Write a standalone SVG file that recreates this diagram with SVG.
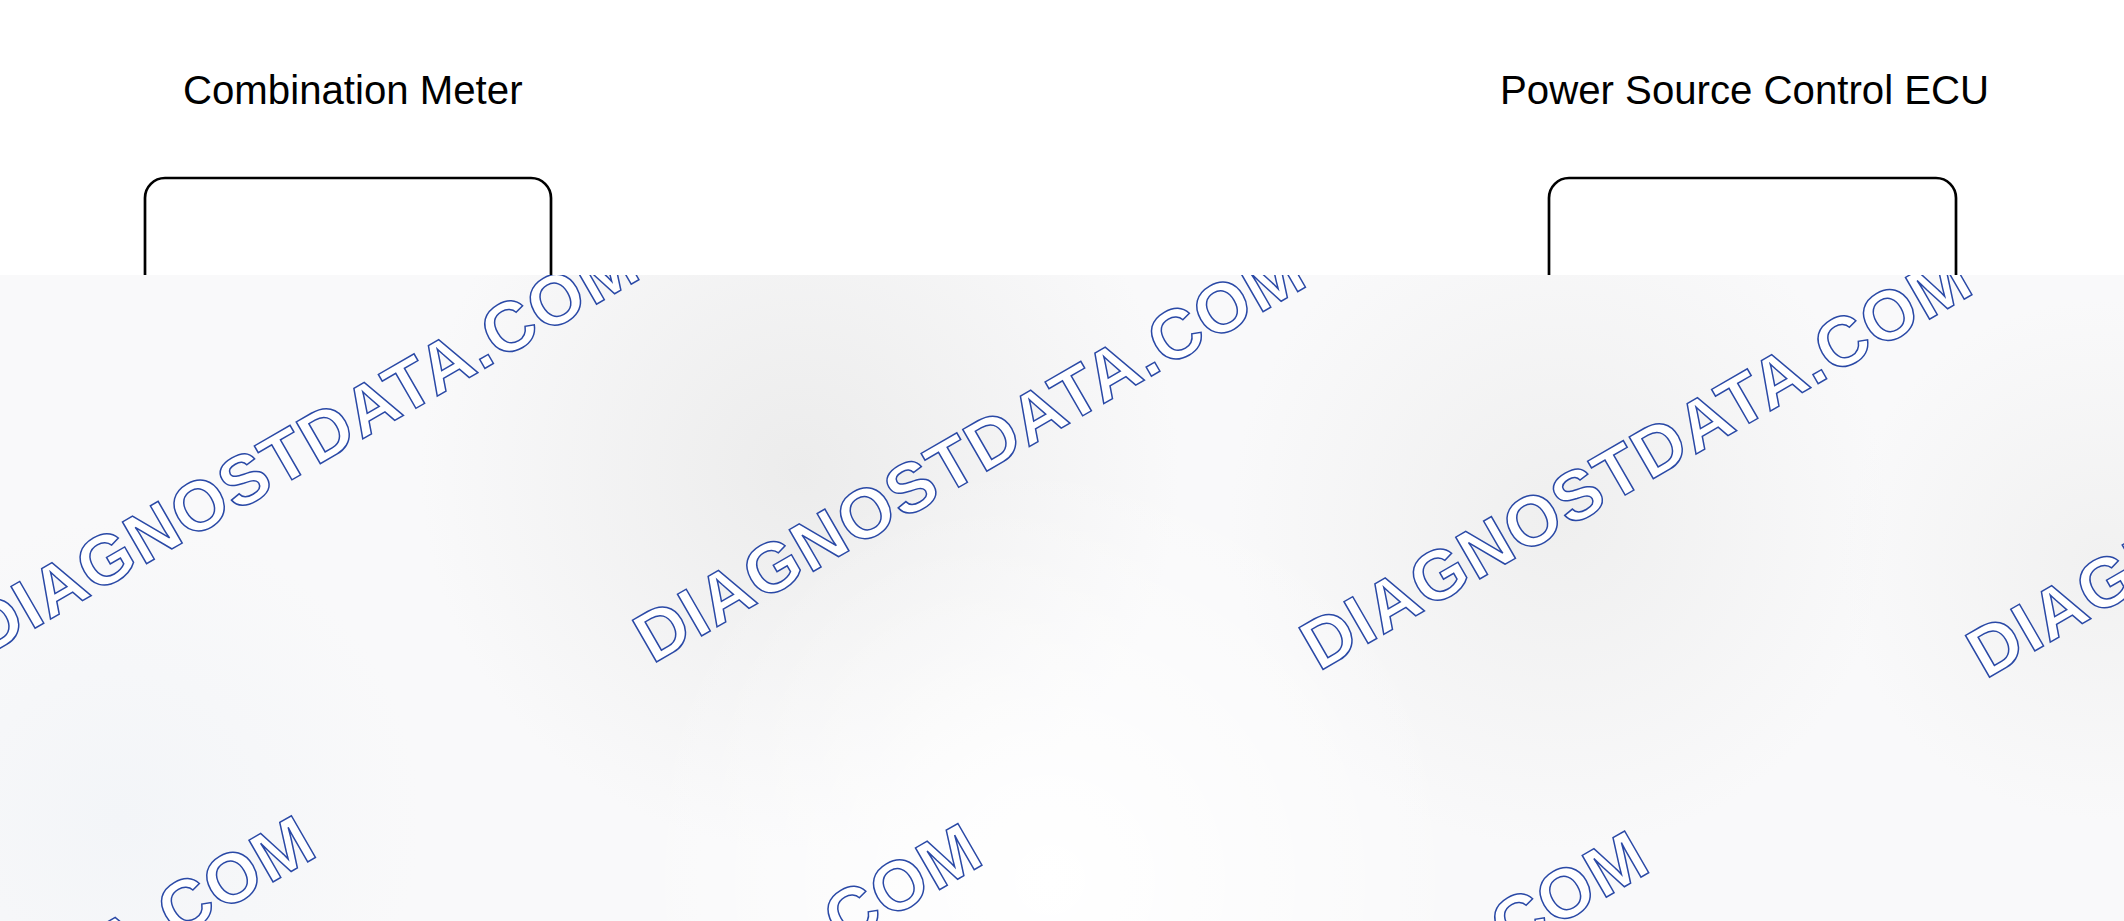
<svg xmlns="http://www.w3.org/2000/svg" width="2124" height="921" viewBox="0 0 2124 921">
  <style>
    .title { font-family: "Liberation Sans", Arial, sans-serif; font-size: 40.2px; fill: #000; }
    .box { fill: none; stroke: #000; stroke-width: 2.7; }
    .wm { font-family: "Liberation Sans", Arial, sans-serif; font-weight: bold; font-size: 70px; letter-spacing: 1.5px; fill: #fff; stroke: #2a49a6; stroke-width: 1.5; }
  </style>
  <defs>
    <radialGradient id="g1" cx="800" cy="470" r="380" gradientUnits="userSpaceOnUse">
      <stop offset="0" stop-color="#ececec" stop-opacity="1"/>
      <stop offset="1" stop-color="#ececec" stop-opacity="0"/>
    </radialGradient>
    <radialGradient id="g2" cx="1560" cy="520" r="330" gradientUnits="userSpaceOnUse">
      <stop offset="0" stop-color="#efefef" stop-opacity="1"/>
      <stop offset="1" stop-color="#efefef" stop-opacity="0"/>
    </radialGradient>
    <radialGradient id="g3" cx="1050" cy="880" r="420" gradientUnits="userSpaceOnUse">
      <stop offset="0" stop-color="#ffffff" stop-opacity="1"/>
      <stop offset="1" stop-color="#ffffff" stop-opacity="0"/>
    </radialGradient>
    <radialGradient id="g4" cx="2100" cy="560" r="260" gradientUnits="userSpaceOnUse">
      <stop offset="0" stop-color="#f1f1f1" stop-opacity="1"/>
      <stop offset="1" stop-color="#f1f1f1" stop-opacity="0"/>
    </radialGradient>
    <radialGradient id="g5" cx="120" cy="820" r="300" gradientUnits="userSpaceOnUse">
      <stop offset="0" stop-color="#f3f5f8" stop-opacity="1"/>
      <stop offset="1" stop-color="#f3f5f8" stop-opacity="0"/>
    </radialGradient>
    <clipPath id="wmclip">
      <rect x="0" y="275" width="2124" height="646"/>
    </clipPath>
  </defs>

  <rect x="0" y="0" width="2124" height="921" fill="#ffffff"/>

  <g id="combination-meter">
    <text class="title" x="183" y="104">Combination Meter</text>
    <path class="box" d="M145,275 V198 A20,20 0 0 1 165,178 H531 A20,20 0 0 1 551,198 V275"/>
  </g>

  <g id="power-source-control-ecu">
    <text class="title" x="1500" y="104">Power Source Control ECU</text>
    <path class="box" d="M1549,275 V198 A20,20 0 0 1 1569,178 H1936 A20,20 0 0 1 1956,198 V275"/>
  </g>

  <g id="connectors"/>

  <g id="watermark-layer">
    <rect x="0" y="275" width="2124" height="646" fill="#f9f9fa"/>
    <rect x="0" y="275" width="2124" height="646" fill="url(#g1)"/>
    <rect x="0" y="275" width="2124" height="646" fill="url(#g2)"/>
    <rect x="0" y="275" width="2124" height="646" fill="url(#g4)"/>
    <rect x="0" y="275" width="2124" height="646" fill="url(#g5)"/>
    <rect x="0" y="275" width="2124" height="646" fill="url(#g3)"/>
    <g clip-path="url(#wmclip)">
      <text class="wm" transform="translate(-14.2,656.6) rotate(-30)">DIAGNOSTDATA.COM</text>
      <text class="wm" transform="translate(652.4,664.2) rotate(-30)">DIAGNOSTDATA.COM</text>
      <text class="wm" transform="translate(1319,671.8) rotate(-30)">DIAGNOSTDATA.COM</text>
      <text class="wm" transform="translate(1985.6,679.4) rotate(-30)">DIAGNOSTDATA.COM</text>
      <text class="wm" transform="translate(-337.6,1234.5) rotate(-30)">DIAGNOSTDATA.COM</text>
      <text class="wm" transform="translate(329,1242.1) rotate(-30)">DIAGNOSTDATA.COM</text>
      <text class="wm" transform="translate(995.6,1249.7) rotate(-30)">DIAGNOSTDATA.COM</text>
      <text class="wm" transform="translate(1662.2,1257.3) rotate(-30)">DIAGNOSTDATA.COM</text>
    </g>
  </g>
</svg>
